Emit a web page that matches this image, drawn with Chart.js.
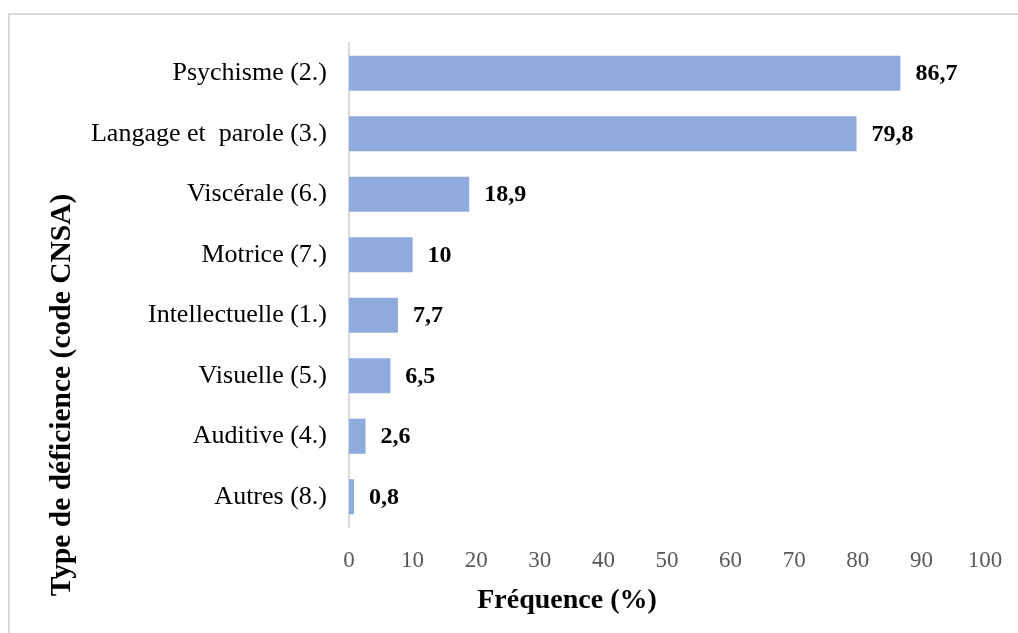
<!DOCTYPE html>
<html>
<head>
<meta charset="utf-8">
<script src="https://cdn.jsdelivr.net/npm/chart.js@4"></script>
<style>
  html, body { margin: 0; padding: 0; background: #fff; overflow: hidden; }
  #frame { position: absolute; left: 8px; top: 13px; width: 1100px; height: 700px; border: 2px solid #d9d9d9; }
  #chart { position: absolute; left: 0; top: 0; }
</style>
</head>
<body>
<div id="frame"></div>
<canvas id="chart" width="1018" height="633"></canvas>
<script>
const categories = ['Psychisme (2.)', 'Langage et  parole (3.)', 'Viscérale (6.)', 'Motrice (7.)',
  'Intellectuelle (1.)', 'Visuelle (5.)', 'Auditive (4.)', 'Autres (8.)']
const frequencies = [86.7, 79.8, 18.9, 10, 7.7, 6.5, 2.6, 0.8]
const xTickValues = [0, 10, 20, 30, 40, 50, 60, 70, 80, 90, 100]
const xTitle = 'Fréquence (%)'
const yTitle = 'Type de déficience (code CNSA)'

const serif = '"Liberation Serif", "Times New Roman", serif'

// value labels next to the bars + the two axis titles
const labelsAndTitles = {
  id: 'labelsAndTitles',
  afterDatasetsDraw(chart) {
    const { ctx } = chart
    const meta = chart.getDatasetMeta(0)
    ctx.save()
    ctx.fillStyle = '#000'
    ctx.font = 'bold 24px ' + serif
    ctx.textAlign = 'left'
    ctx.textBaseline = 'middle'
    meta.data.forEach((bar, i) => {
      ctx.fillText(String(frequencies[i]).replace('.', ','), bar.x + 15, bar.y + 1)
    })
    ctx.font = 'bold 28px ' + serif
    ctx.textAlign = 'center'
    ctx.fillText(xTitle, 567, 601)
    ctx.font = 'bold 29.5px ' + serif
    ctx.translate(62, 395)
    ctx.rotate(-Math.PI / 2)
    ctx.fillText(yTitle, 0, 0)
    ctx.restore()
  }
}

new Chart(document.getElementById('chart'), {
  type: 'bar',
  data: {
    labels: categories,
    datasets: [{
      data: frequencies,
      backgroundColor: '#8faadc',
      categoryPercentage: 1,
      barPercentage: 0.58
    }]
  },
  options: {
    indexAxis: 'y',
    responsive: false,
    animation: false,
    layout: { padding: { top: 43, right: 33, left: 0, bottom: 0 } },
    plugins: { legend: { display: false }, tooltip: { enabled: false } },
    scales: {
      x: {
        min: 0,
        max: 100,
        afterBuildTicks(scale) { scale.ticks = xTickValues.map(v => ({ value: v })) },
        afterFit(scale) {
          scale.height = 106
          scale.paddingLeft = 0
          scale.paddingRight = 0
        },
        grid: { display: false, drawTicks: false },
        border: { display: false },
        ticks: { color: '#595959', padding: 20, maxRotation: 0, font: { family: serif, size: 23 } }
      },
      y: {
        afterFit(scale) { scale.width = 349 },
        grid: { display: false, drawTicks: false },
        border: { display: true, color: '#d9d9d9', width: 2 },
        ticks: { color: '#000', padding: 22, font: { family: serif, size: 26 } }
      }
    }
  },
  plugins: [labelsAndTitles]
})
</script>
</body>
</html>
